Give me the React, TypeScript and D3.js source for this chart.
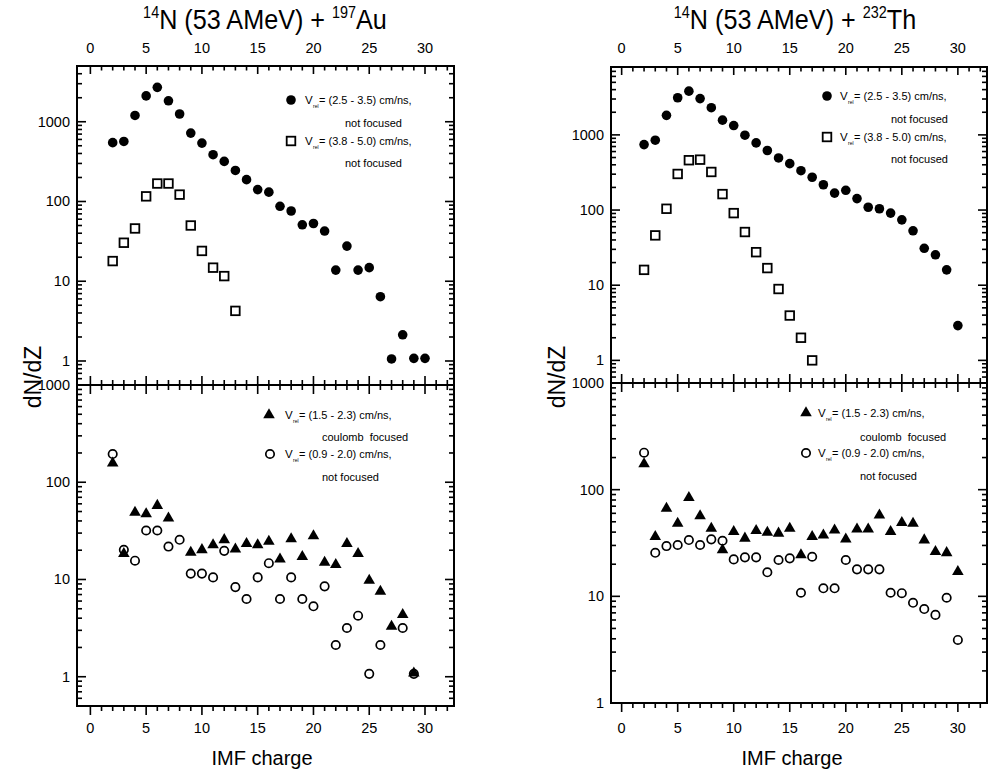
import React from 'react';
import * as d3 from 'd3';

const FONT = "'Liberation Sans', Arial, Helvetica, sans-serif";

// ---------- data ----------
const xTickLabels = [0, 5, 10, 15, 20, 25, 30];
const yTickLabels = [1, 10, 100, 1000];

// 14N + 197Au, upper panel
const auFastZ = [2, 3, 4, 5, 6, 7, 8, 9, 10, 11, 12, 13, 14, 15, 16, 17, 18, 19, 20, 21, 22, 23, 24, 25, 26, 27, 28, 29, 30];
const auFast = [547, 566, 1200, 2110, 2700, 1830, 1250, 720, 540, 386, 318, 245, 188, 141, 131, 87, 76, 51, 53, 42.6, 13.8, 27.6, 13.8, 14.8, 6.4, 1.06, 2.13, 1.08, 1.08];
const auVeryFastZ = [2, 3, 4, 5, 6, 7, 8, 9, 10, 11, 12, 13];
const auVeryFast = [17.9, 30.4, 45.9, 116, 168, 168, 122, 50, 24, 14.8, 11.6, 4.25];
// 14N + 197Au, lower panel
const auCoulombZ = [2, 3, 4, 5, 6, 7, 9, 10, 11, 12, 13, 14, 15, 16, 17, 18, 19, 20, 21, 22, 23, 24, 25, 26, 27, 28, 29];
const auCoulomb = [157, 18.4, 48.9, 47.3, 57.6, 42.7, 19, 20.2, 22.7, 25.6, 20.5, 23.3, 22.7, 24.6, 16.2, 26.2, 17.2, 28.1, 15, 14.2, 23.3, 18.4, 9.77, 7.53, 3.29, 4.34, 1.09];
const auSlowZ = [2, 3, 4, 5, 6, 7, 8, 9, 10, 11, 12, 13, 14, 15, 16, 17, 18, 19, 20, 21, 22, 23, 24, 25, 26, 28, 29];
const auSlow = [195, 20.2, 15.6, 31.9, 31.9, 21.8, 25.6, 11.5, 11.5, 10.5, 19.7, 8.35, 6.3, 10.5, 14.7, 6.3, 10.5, 6.3, 5.3, 8.5, 2.12, 3.17, 4.24, 1.07, 2.12, 3.17, 1.07];

// 14N + 232Th, upper panel
const thFastZ = [2, 3, 4, 5, 6, 7, 8, 9, 10, 11, 12, 13, 14, 15, 16, 17, 18, 19, 20, 21, 22, 23, 24, 25, 26, 27, 28, 29, 30];
const thFast = [742, 850, 1820, 3120, 3820, 3040, 2300, 1570, 1330, 991, 782, 620, 493, 414, 334, 273, 217, 168, 183, 142, 109, 104, 91, 74, 53, 31, 25.4, 16, 2.9];
const thVeryFastZ = [2, 3, 4, 5, 6, 7, 8, 9, 10, 11, 12, 13, 14, 15, 16, 17];
const thVeryFast = [16, 46, 104, 302, 460, 468, 321, 163, 91, 51, 27.5, 16.9, 8.9, 3.95, 2.0, 1.0];
// 14N + 232Th, lower panel
const thCoulombZ = [2, 3, 4, 5, 6, 7, 8, 9, 10, 11, 12, 13, 14, 15, 16, 17, 18, 19, 20, 21, 22, 23, 24, 25, 26, 27, 28, 29, 30];
const thCoulomb = [174, 36.2, 66.8, 48.3, 84, 56.6, 43.4, 27.2, 40.3, 35, 41.2, 39.8, 39, 43.4, 24.4, 36.2, 37.5, 41.8, 34.4, 42.7, 42.7, 57.8, 40.3, 49, 48.3, 33.7, 26.2, 25.6, 17];
const thSlowZ = [2, 3, 4, 5, 6, 7, 8, 9, 10, 11, 12, 13, 14, 15, 16, 17, 18, 19, 20, 21, 22, 23, 24, 25, 26, 27, 28, 29, 30];
const thSlow = [222, 25.6, 29.6, 30.3, 33.7, 30.3, 34.2, 33.2, 22.2, 23.2, 23.2, 16.8, 21.9, 22.7, 10.8, 23.5, 11.9, 11.9, 21.9, 17.9, 17.9, 17.9, 10.8, 10.7, 8.7, 7.6, 6.7, 9.7, 3.9];

const legendFast = ['= (2.5 - 3.5) cm/ns,', 'not focused'];
const legendVeryFast = ['= (3.8 - 5.0) cm/ns,', 'not focused'];
const legendCoulomb = ['= (1.5 - 2.3) cm/ns,', 'coulomb  focused'];
const legendSlow = ['= (0.9 - 2.0) cm/ns,', 'not focused'];

type Kind = 'dot' | 'square' | 'tri' | 'ring';

function Marker({ kind, x, y }: { kind: Kind; x: number; y: number }) {
  if (kind === 'dot') return <circle cx={x} cy={y} r={4.8} fill="#000" />;
  if (kind === 'square')
    return <rect x={x - 4.3} y={y - 4.3} width={8.6} height={8.6} fill="#fff" stroke="#000" strokeWidth={1.8} />;
  if (kind === 'ring') return <circle cx={x} cy={y} r={4.2} fill="none" stroke="#000" strokeWidth={1.7} />;
  const sym = d3.symbol().type(d3.symbolTriangle).size(58)() as string;
  return <path d={sym} transform={`translate(${x},${y})`} fill="#000" />;
}

function logTicks(lo: number, hi: number) {
  const out: { v: number; major: boolean }[] = [];
  for (let k = Math.floor(Math.log10(lo)); k <= Math.ceil(Math.log10(hi)); k++) {
    for (let m = 1; m <= 9; m++) {
      const v = m * Math.pow(10, k);
      if (v >= lo * 0.999 && v <= hi * 1.001) out.push({ v, major: m === 1 });
    }
  }
  return out;
}

type Series = { z: number[]; v: number[]; kind: Kind };
type Legend = { kind: Kind; mx: number; my: number; vx: number; ex: number; text: string[]; sx: number; sy: number };

function Panel(p: any) {
  const x = d3.scaleLinear().domain(p.xDom).range([p.x0, p.x1]);
  const yT = d3.scaleLog().domain(p.topDom).range([p.yDiv, p.yTop]);
  const yB = d3.scaleLog().domain(p.botDom).range([p.yBot, p.yDiv]);

  // tick marks as rects (filled)
  const ticks: React.ReactNode[] = [];
  const W = 1.6;
  d3.range(0, 33).forEach((t) => {
    const X = x(t);
    const major = t % 5 === 0;
    const L = major ? 8 : 4.5;
    const D = major ? 9 : 5;
    ticks.push(<rect key={`a${t}`} x={X - W / 2} y={p.yTop} width={W} height={L} fill="#000" />);
    ticks.push(<rect key={`b${t}`} x={X - W / 2} y={p.yDiv - D} width={W} height={2 * D} fill="#000" />);
    ticks.push(<rect key={`c${t}`} x={X - W / 2} y={p.yBot} width={W} height={D} fill="#000" />);
  });
  const ys: [any, number[], string][] = [
    [yT, p.topDom, 't'],
    [yB, p.botDom, 'b'],
  ];
  const labels: React.ReactNode[] = [];
  ys.forEach(([sc, dom, id]) => {
    logTicks(dom[0], dom[1]).forEach(({ v, major }, j) => {
      const Y = sc(v);
      const L = major ? 9 : 5;
      ticks.push(<rect key={`l${id}${j}`} x={p.x0} y={Y - W / 2} width={L} height={W} fill="#000" />);
      ticks.push(<rect key={`r${id}${j}`} x={p.x1 - L} y={Y - W / 2} width={L} height={W} fill="#000" />);
    });
    yTickLabels.forEach((v) => {
      if (v < dom[0] * 0.999 || v > dom[1] * 1.001) return;
      labels.push(
        <text key={`yt${id}${v}`} x={p.x0 - 7} y={sc(v)} textAnchor="end" dominantBaseline="central" fontSize={14.5} fontFamily={FONT}>
          {v}
        </text>
      );
    });
  });
  xTickLabels.forEach((t) => {
    labels.push(
      <text key={`xtl${t}`} x={x(t)} y={48} textAnchor="middle" dominantBaseline="central" fontSize={14.5} fontFamily={FONT}>{t}</text>
    );
    labels.push(
      <text key={`xbl${t}`} x={x(t)} y={728} textAnchor="middle" dominantBaseline="central" fontSize={14.5} fontFamily={FONT}>{t}</text>
    );
  });

  const marks: React.ReactNode[] = [];
  (p.topSeries as Series[]).forEach((s, si) =>
    s.z.forEach((z, i) => marks.push(<Marker key={`ts${si}-${i}`} kind={s.kind} x={x(z)} y={yT(s.v[i])} />))
  );
  (p.botSeries as Series[]).forEach((s, si) =>
    s.z.forEach((z, i) => marks.push(<Marker key={`bs${si}-${i}`} kind={s.kind} x={x(z)} y={yB(s.v[i])} />))
  );

  return (
    <g>
      <text transform={`translate(${p.titleX},29) scale(0.9,1)`} textAnchor="middle" fontSize={28} fontFamily={FONT}>
        <tspan fontSize={16} dy={-11}>14</tspan>
        <tspan dy={11}>N (53 AMeV) + </tspan>
        <tspan fontSize={16} dy={-11}>{p.targetMass}</tspan>
        <tspan dy={11}>{p.targetName}</tspan>
      </text>
      <rect x={p.x0} y={p.yTop} width={p.x1 - p.x0} height={p.yBot - p.yTop} fill="none" stroke="#000" strokeWidth={2} />
      <line x1={p.x0} x2={p.x1} y1={p.yDiv} y2={p.yDiv} stroke="#000" strokeWidth={2} />
      {ticks}
      {labels}
      {marks}
      {(p.legends as Legend[]).map((l, i) => (
        <g key={`lg${i}`} fontFamily={FONT}>
          <Marker kind={l.kind} x={l.mx} y={l.my} />
          <text x={l.vx} y={l.my} dominantBaseline="central" fontSize={11.5}>V</text>
          <text x={l.vx + 8} y={l.my + 6} dominantBaseline="central" fontSize={5}>rel</text>
          <text x={l.ex} y={l.my} dominantBaseline="central" fontSize={11}>{l.text[0]}</text>
          <text x={l.sx} y={l.sy} dominantBaseline="central" fontSize={11} xmlSpace="preserve">{l.text[1]}</text>
        </g>
      ))}
      <text transform={`translate(${p.yLabelX},377) rotate(-90)`} textAnchor="middle" dominantBaseline="central" fontSize={23} fontFamily={FONT}>
        dN/dZ
      </text>
      <text x={p.xLabelX} y={758} textAnchor="middle" dominantBaseline="central" fontSize={20} fontFamily={FONT}>
        IMF charge
      </text>
    </g>
  );
}

export default function App() {
  return (
    <svg width={993} height={775} style={{ position: 'absolute', left: 0, top: 0, background: '#fff' }}>
      <Panel
        x0={77} x1={454} xDom={[-1.2, 32.6]}
        yTop={66} yDiv={385} yBot={706}
        topDom={[0.5, 5000]} botDom={[0.5, 1000]}
        targetMass="197" targetName="Au" titleX={265}
        topSeries={[
          { z: auFastZ, v: auFast, kind: 'dot' },
          { z: auVeryFastZ, v: auVeryFast, kind: 'square' },
        ]}
        botSeries={[
          { z: auSlowZ, v: auSlow, kind: 'ring' },
          { z: auCoulombZ, v: auCoulomb, kind: 'tri' },
        ]}
        legends={[
          { kind: 'dot', mx: 291, my: 100, vx: 305, ex: 319, text: legendFast, sx: 345, sy: 123 },
          { kind: 'square', mx: 291, my: 141, vx: 305, ex: 319, text: legendVeryFast, sx: 345, sy: 163 },
          { kind: 'tri', mx: 269, my: 415, vx: 285, ex: 299, text: legendCoulomb, sx: 322, sy: 437 },
          { kind: 'ring', mx: 270, my: 454, vx: 285, ex: 299, text: legendSlow, sx: 322, sy: 477 },
        ]}
        yLabelX={33} xLabelX={262}
      />
      <Panel
        x0={611} x1={987} xDom={[-0.95, 32.6]}
        yTop={67} yDiv={383} yBot={703}
        topDom={[0.5, 8000]} botDom={[1, 1000]}
        targetMass="232" targetName="Th" titleX={795}
        topSeries={[
          { z: thFastZ, v: thFast, kind: 'dot' },
          { z: thVeryFastZ, v: thVeryFast, kind: 'square' },
        ]}
        botSeries={[
          { z: thSlowZ, v: thSlow, kind: 'ring' },
          { z: thCoulombZ, v: thCoulomb, kind: 'tri' },
        ]}
        legends={[
          { kind: 'dot', mx: 827, my: 96, vx: 840, ex: 854, text: legendFast, sx: 891, sy: 119 },
          { kind: 'square', mx: 827, my: 137, vx: 840, ex: 854, text: legendVeryFast, sx: 891, sy: 159 },
          { kind: 'tri', mx: 806, my: 413, vx: 818, ex: 832, text: legendCoulomb, sx: 860, sy: 437 },
          { kind: 'ring', mx: 806, my: 453, vx: 818, ex: 832, text: legendSlow, sx: 860, sy: 476 },
        ]}
        yLabelX={557} xLabelX={792}
      />
    </svg>
  );
}
